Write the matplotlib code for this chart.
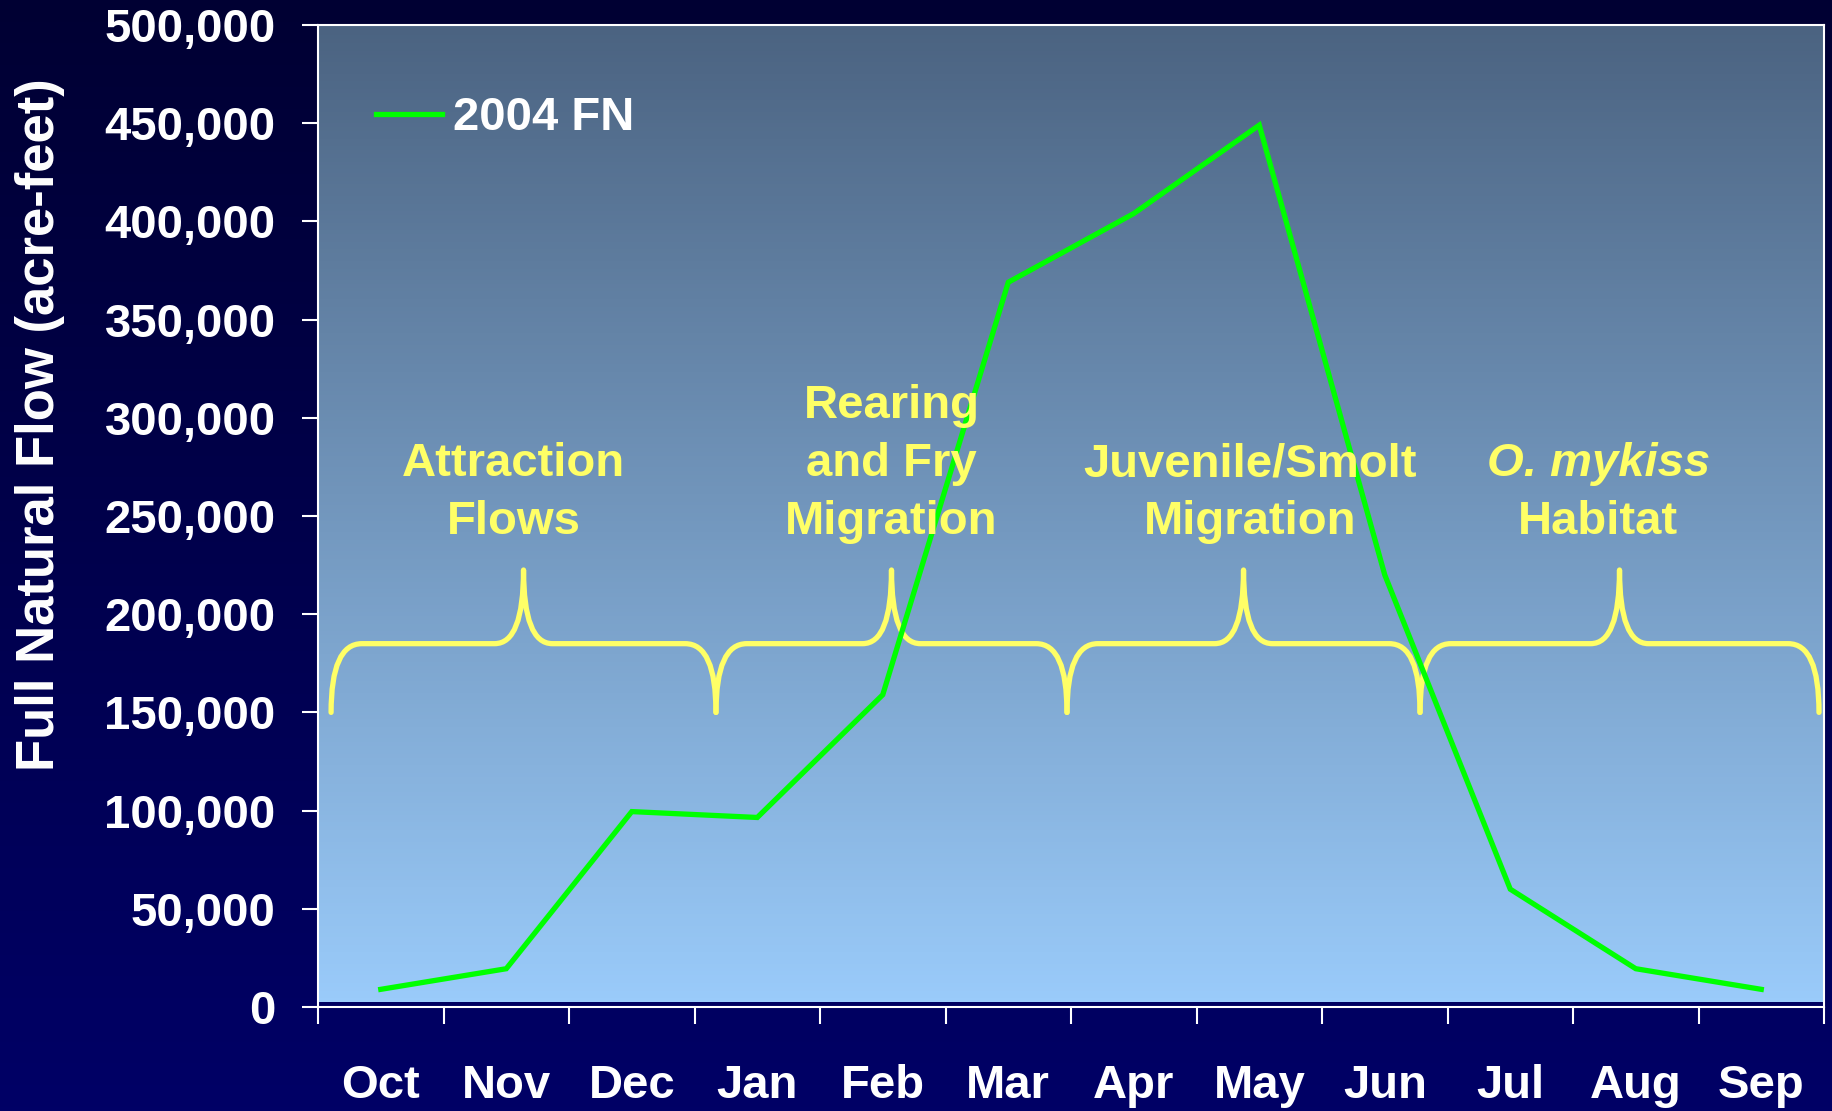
import numpy as np
import matplotlib.pyplot as plt
from matplotlib.path import Path
from matplotlib.patches import PathPatch
from matplotlib.colors import LinearSegmentedColormap
from matplotlib.ticker import FuncFormatter

# datos
meses = ["Oct", "Nov", "Dec", "Jan", "Feb", "Mar", "Apr", "May", "Jun", "Jul", "Aug", "Sep"]
flujo_2004 = [9000, 19500, 99500, 96500, 159000, 369000, 404000, 449000, 220000, 60000, 19500, 9000]
serie_nombre = "2004 FN"
y_ticks = [0, 50000, 100000, 150000, 200000, 250000, 300000, 350000, 400000, 450000, 500000]

# etapas (limites en posicion de categoria)
etapas = [
    (["Attraction", "Flows"], -0.396, 2.671, 1.06),
    (["Rearing", "and Fry", "Migration"], 2.671, 5.468, 4.07),
    (["Juvenile/Smolt", "Migration"], 5.468, 8.281, 6.93),
    (["O. mykiss", "Habitat"], 8.281, 11.46, 9.70),
]

AMARILLO = "#FFFF66"
VERDE = "#00FF00"
FUENTE = "Liberation Sans"

plt.rcParams['font.family'] = [FUENTE, 'DejaVu Sans']
plt.rcParams['font.weight'] = 'bold'

fig = plt.figure(figsize=(18.33, 11.11), dpi=100)

# fondo de la figura (degradado azul marino)
fondo = fig.add_axes([0, 0, 1, 1], zorder=0)
cmap_fondo = LinearSegmentedColormap.from_list("fondo", ["#000066", "#000033"])
fondo.imshow(np.linspace(0, 1, 256).reshape(-1, 1), aspect="auto", cmap=cmap_fondo,
             extent=[0, 1, 0, 1], origin="lower")
fondo.axis("off")

ax = fig.add_axes([0.1735, 0.0936, 0.8216, 0.8839], zorder=1)
ax.patch.set_visible(False)

# degradado del area de trazado
cmap_area = LinearSegmentedColormap.from_list("area", ["#9ACBFA", "#4B6381"])
ax.imshow(np.linspace(0, 1, 256).reshape(-1, 1), aspect="auto", cmap=cmap_area,
          extent=[0, 1, 0.005, 1], origin="lower", transform=ax.transAxes, zorder=0)

x = np.arange(len(meses))
ax.plot(x, flujo_2004, color=VERDE, lw=3.8, label=serie_nombre, zorder=4,
        solid_joinstyle="miter")

ax.set_xlim(-0.5, len(meses) - 0.5)
ax.set_ylim(0, 500000)

# ejes
for lado in ["left", "right", "top", "bottom"]:
    ax.spines[lado].set_color("white")
    ax.spines[lado].set_linewidth(1.5)

ax.set_yticks(y_ticks)
ax.yaxis.set_major_formatter(FuncFormatter(lambda v, p: f"{int(v):,}"))
ax.tick_params(axis="y", colors="white", labelsize=34, length=11.5, width=1.5, pad=19)

ax.set_xticks(np.arange(-0.5, len(meses)))
ax.set_xticklabels([])
ax.set_xticks(x, meses, minor=True)
ax.tick_params(axis="x", which="major", colors="white", length=12, width=1.5)
ax.tick_params(axis="x", which="minor", colors="white", labelsize=34, length=0, pad=41)
for lbl in ax.get_xticklabels(minor=True) + ax.get_yticklabels():
    lbl.set_fontweight("bold")

fig.text(40 / 1833, 1 - 425 / 1111, "Full Natural Flow (acre-feet)", rotation=90,
         ha="center", va="center", color="white", fontsize=38, fontweight="bold")

# leyenda
leg = ax.legend(loc="center left", bbox_to_anchor=(0.0385, 0.905), frameon=False,
                borderpad=0, borderaxespad=0, handlelength=1.4, handletextpad=0.22,
                prop={"size": 34, "weight": "bold"}, labelcolor="white")


# llaves
def dibujar_llave(ax, x0, x1, y_base=150000, y_plano=185000, y_punta=222500,
                  dx_c=0.245, dx_p=0.23):
    xm = (x0 + x1) / 2
    verts = [(x0, y_base), (x0, y_plano), (x0 + dx_c, y_plano),
             (xm - dx_p, y_plano),
             (xm, y_plano), (xm, y_punta),
             (xm, y_plano), (xm + dx_p, y_plano),
             (x1 - dx_c, y_plano),
             (x1, y_plano), (x1, y_base)]
    codes = [Path.MOVETO, Path.CURVE3, Path.CURVE3, Path.LINETO,
             Path.CURVE3, Path.CURVE3, Path.CURVE3, Path.CURVE3,
             Path.LINETO, Path.CURVE3, Path.CURVE3]
    ax.add_patch(PathPatch(Path(verts, codes), fill=False, edgecolor=AMARILLO,
                           lw=3.8, capstyle="round", joinstyle="round", zorder=3))


paso = 29560
for lineas, x0, x1, xt in etapas:
    dibujar_llave(ax, x0, x1)
    y0 = 240600 + paso * (len(lineas) - 1)
    for i, linea in enumerate(lineas):
        estilo = "italic" if linea == "O. mykiss" else "normal"
        ax.text(xt, y0 - i * paso, linea, ha="center", va="baseline", color=AMARILLO,
                fontsize=34, fontweight="bold", fontstyle=estilo, zorder=5)

fig.savefig("out.png", dpi=100)
